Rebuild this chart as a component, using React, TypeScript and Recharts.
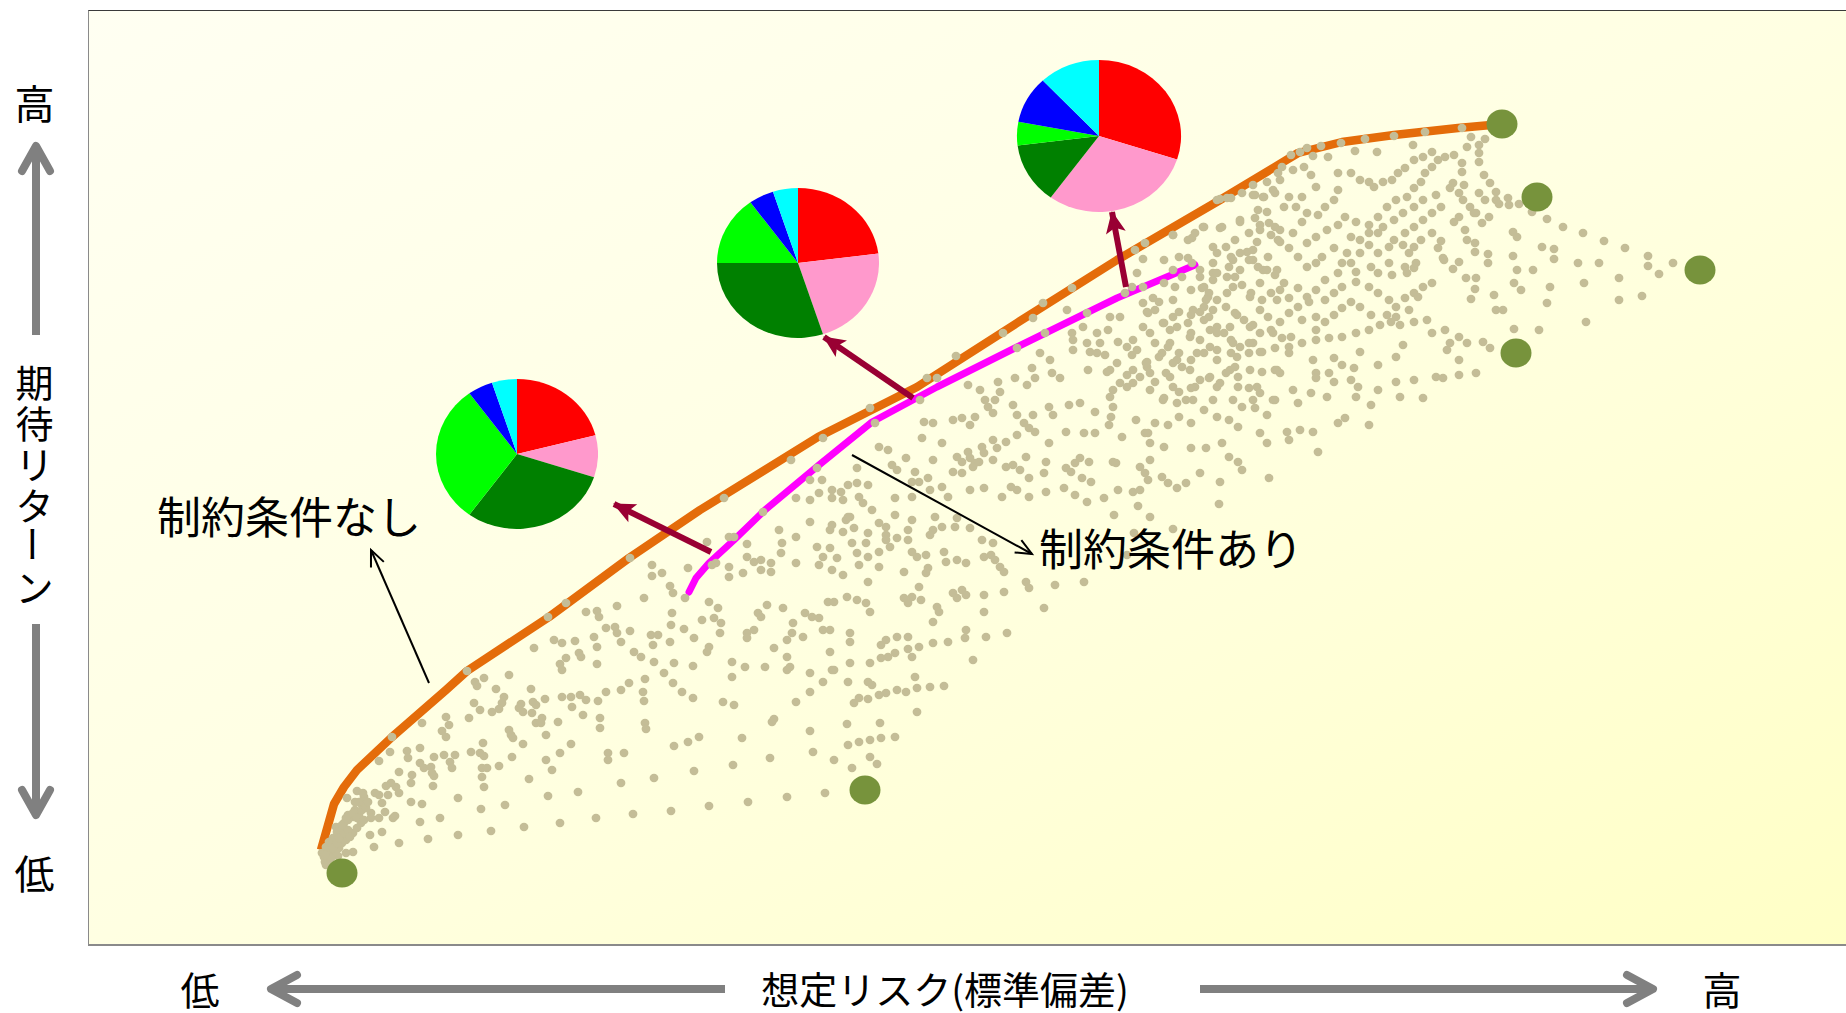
import React from 'react';
import { ScatterChart, Scatter, XAxis, YAxis, PieChart, Pie, Cell } from 'recharts';

type Pt = [number, number];

// Efficient frontier without allocation constraints (risk, expected return)
const frontierUnconstrained: Pt[] = [
  [23.3, 9.6], [24.6, 14.2], [25.6, 15.9], [26.9, 17.6], [30.4, 20.9], [35.8, 25.6], [37.9, 27.5],
  [46.1, 32.9], [54.1, 38.8], [61.2, 43.6], [73.0, 50.9], [82.9, 55.9], [92.9, 62.3], [102.9, 68.6],
  [113.2, 74.6], [121.0, 79.3], [125.4, 80.4], [130.6, 81.1], [137.0, 81.8], [141.4, 82.2],
];

// Efficient frontier with allocation constraints
const frontierConstrained: Pt[] = [
  [60.1, 35.4], [60.8, 36.8], [62.1, 38.3], [64.6, 40.6], [67.7, 43.6], [73.1, 48.1], [78.4, 52.4],
  [84.9, 55.9], [92.9, 59.9], [102.9, 64.8], [110.7, 68.1],
];

// Individual asset classes
const assetPoints: Pt[] = [
  [25.4, 7.3], [77.7, 15.6], [141.4, 82.2], [144.9, 74.9], [161.2, 67.6], [142.8, 59.3],
];

// Randomly weighted portfolios, low-risk side
const portfoliosLow: Pt[] = [
  [54.2,38.8],[47.8,34.3],[46.0,32.9],[37.9,27.5],[30.4,20.9],
  [56.4,38.1],[56.4,37.0],[57.4,37.3],[60.0,37.8],[58.2,36.0],[58.5,35.3],[59.7,34.8],[55.6,34.8],[52.9,34.0],[49.8,33.4],
  [50.9,33.5],[51.1,32.9],[58.4,33.3],[58.3,32.1],[59.6,31.7],[51.8,31.8],[52.7,31.9],[52.9,31.3],[54.2,31.5],[53.3,30.4],
  [56.3,31.1],[57.0,31.1],[58.2,30.4],[56.5,30.1],[60.6,30.8],[50.6,30.9],[50.9,29.9],[44.6,29.8],[46.6,30.6],[47.4,30.3],
  [48.7,30.5],[54.6,29.4],[55.3,28.9],[49.1,29.3],[49.3,28.9],[47.8,28.8],[47.2,28.2],[47.4,27.6],[50.9,28.2],[56.6,28.4],
  [58.6,28.3],[57.6,27.3],[60.5,28.0],[55.7,26.7],[54.1,26.3],[51.8,25.4],[53.3,25.6],[55.5,25.4],[55.6,24.5],[58.5,26.3],
  [59.4,25.4],[60.5,24.8],[49.2,25.1],[48.3,24.9],[47.4,24.9],[49.8,24.6],[51.0,24.5],[45.7,24.7],[44.5,24.4],[44.8,24.1],
  [43.3,24.2],[43.1,23.8],[43.5,23.4],[44.3,25.7],[42.1,27.1],[40.8,25.7],[41.6,24.9],[41.4,24.3],[38.7,26.4],[38.9,26.0],
  [39.6,26.8],[38.6,24.3],[39.2,23.6],[40.4,23.4],[41.1,23.7],[48.4,23.9],[49.5,23.1],[51.2,22.8],[51.2,21.8],[44.4,23.3],
  [45.4,22.8],[44.8,22.3],[45.3,22.3],[47.0,22.4],[38.1,22.8],[35.8,22.9],[36.1,22.1],[35.4,21.5],[35.8,20.9],[33.4,22.3],
  [42.1,21.6],[42.3,21.1],[42.5,20.8],[43.5,20.2],[45.8,21.1],[48.3,20.2],[47.2,19.3],[45.8,18.6],[46.4,17.6],[55.7,22.3],
  [55.8,21.7],[58.6,20.0],[60.0,20.4],[61.1,20.9],[52.0,19.3],[52.0,18.6],[53.6,19.3],[39.5,20.3],[38.3,19.4],[39.2,19.3],
  [39.6,19.0],[39.4,17.8],[41.1,18.0],[39.9,17.8],[42.4,18.9],[39.4,16.9],[39.6,15.9],[36.7,19.1],[36.2,18.4],[35.6,19.1],
  [34.6,18.9],[33.2,18.3],[33.6,17.8],[34.3,17.9],[34.4,17.3],[34.6,17.0],[33.2,19.8],[31.9,19.5],[32.0,18.8],[30.2,19.4],
  [29.1,18.5],[31.1,17.4],[32.4,17.1],[32.3,16.3],[34.5,16.0],[37.0,14.8],[36.4,17.8],[30.3,16.3],[29.8,16.0],[30.8,15.9],
  [31.1,15.3],[29.1,15.1],[30.0,15.1],[32.3,14.4],[33.4,14.2],[44.1,16.7],[46.0,15.0],[49.0,15.4],[53.3,16.3],[56.6,16.8],
  [60.6,17.5],[41.7,14.1],[39.3,13.7],[35.2,12.8],[33.2,12.4],[30.7,13.0],[28.3,13.3],[29.4,14.3],[26.9,15.5],[25.9,14.8],
  [27.4,14.1],[27.1,13.1],[26.5,12.9],[26.0,12.6],[25.6,11.8],[26.5,11.3],[25.1,10.9],[24.6,10.3],[25.1,9.8],[24.2,9.3],
  [24.0,8.6],[23.6,8.9],[23.8,8.1],[27.3,12.3],[28.2,11.1],[29.4,11.4],[28.6,9.9],[31.1,10.3],[34.0,10.7],[37.0,11.1],
  [40.3,11.5],[43.6,11.9],[47.2,12.3],[50.8,12.8],[54.5,13.2],[58.3,13.5],[26.5,9.4],[25.0,9.0],[25.3,11.2],[24.8,11.9],
  [25.8,10.6],[24.0,9.9],[24.5,10.8],[24.9,11.4],[25.6,12.3],[26.0,13.1],[26.7,13.6],[27.1,14.4],[27.6,14.9],[25.4,10.3],
  [24.7,9.4],[23.7,8.4],
  [23.4,9.3],[23.8,9.9],[24.1,10.4],[24.5,9.8],[24.9,10.3],[25.1,10.8],[25.6,11.3],[26.0,11.6],[25.4,12.1],[25.8,12.8],
  [26.5,13.3],[26.9,12.8],[27.4,13.6],[27.8,13.8],[26.2,10.9],[25.8,9.3],[24.3,8.8],[24.0,8.1],[23.7,9.1],[26.9,11.8],
  [27.6,12.6],[28.3,12.8],[26.7,14.4],[27.5,15.3],[28.7,15.3],[28.0,14.4],[29.1,12.8],[29.7,13.4],[30.5,12.8],
];

// Randomly weighted portfolios, middle band
const portfoliosMid: Pt[] = [
  [83.6,52.4],[84.5,52.3],[85.4,50.3],[83.4,50.8],[86.5,52.6],[87.4,52.8],[88.7,52.9],[88.2,52.1],[90.0,53.9],[90.5,53.3],
  [92.5,54.1],[92.9,53.1],[93.6,52.3],[94.5,53.1],[96.1,53.9],[96.5,53.1],[98.1,54.1],[99.2,54.3],[100.7,53.4],[102.5,53.9],
  [102.3,52.9],[102.1,52.1],[104.8,52.6],[105.7,51.3],[99.6,51.3],[100.7,51.3],[97.8,51.4],[96.1,50.3],[94.1,51.8],[94.7,51.4],
  [92.9,51.1],[91.8,50.4],[90.5,50.6],[90.9,49.8],[89.4,49.9],[88.0,49.4],[86.9,48.9],[87.4,48.4],[88.2,48.8],[89.1,48.4],
  [90.5,48.6],[89.6,49.3],[88.7,48.3],[86.5,47.4],[87.4,47.3],[88.5,47.9],[91.8,47.9],[92.5,48.1],[93.2,47.6],[93.8,48.9],
  [94.1,46.8],[95.8,48.4],[95.6,47.3],[97.8,47.8],[98.7,48.3],[99.2,48.8],[100.1,48.4],[98.3,47.4],[99.4,46.8],[100.3,46.4],
  [102.5,48.4],[105.2,47.9],[105.7,47.3],[103.4,50.9],[102.8,48.3],[79.1,49.9],[80.0,49.6],[80.4,48.1],[81.8,48.8],[82.7,47.4],
  [82.4,46.4],[83.1,46.4],[84.0,46.8],[84.5,48.6],[80.9,47.6],[82.4,44.9],[84.2,45.6],[85.4,45.9],[86.0,44.9],[88.2,45.6],
  [89.6,45.8],[91.4,44.9],[92.9,45.6],[92.3,45.9],[94.1,44.9],[95.8,45.4],[97.6,45.8],[98.7,45.1],[99.9,44.4],[101.6,44.8],
  [103.0,45.6],[104.5,45.4],[105.2,45.6],[78.0,46.1],[80.7,44.8],[76.9,47.8],[77.1,44.9],[75.5,44.6],[74.4,44.8],[73.1,45.3],
  [72.2,44.6],[70.8,44.8],[72.2,46.6],[73.4,46.6],[74.4,45.6],[75.3,45.4],[76.0,46.1],[76.9,46.3],
  [78.2,53.8],[73.5,50.8],[70.3,48.6],[63.6,44.8],[78.7,52.3],[72.9,47.8],[67.5,43.4],
  [62.4,38.1],[62.8,38.3],[64.1,37.9],[64.1,36.9],[61.9,40.4],[64.1,40.9],[64.6,40.9],[65.9,40.2],[65.9,38.9],[65.5,37.3],
  [66.6,38.4],[67.3,38.6],[67.3,37.6],[68.3,37.4],[68.3,38.3],[69.1,41.6],[69.4,40.3],[69.3,39.3],[70.8,40.9],[70.8,38.3],
  [72.2,42.4],[72.9,39.9],[73.5,38.9],[73.1,38.1],[74.2,39.8],[74.9,38.8],[74.4,37.6],[75.5,37.1],[75.5,41.4],[74.2,41.6],
  [74.4,42.1],[75.8,42.6],[76.0,42.9],[76.6,41.8],[76.4,40.3],[76.9,39.3],[77.1,38.1],[78.0,36.4],[79.1,39.4],[79.1,37.9],
  [78.0,38.9],[77.8,40.3],[78.0,41.3],[79.1,42.3],[79.8,41.9],[79.8,41.1],[78.4,43.6],[77.5,44.3],[76.2,42.9],[80.7,43.1],
  [80.9,40.8],[79.8,40.6],[80.2,39.9],[82.0,40.6],[82.4,39.4],[82.9,38.9],[83.8,39.1],[84.5,41.6],[84.2,41.1],[85.6,39.4],
  [85.8,38.4],[86.9,38.6],[87.8,38.3],[89.4,40.6],[90.5,40.3],[90.3,39.1],[90.7,38.6],[91.2,37.9],[91.6,37.4],[89.6,38.9],
  [85.4,41.9],[86.7,41.9],[88.2,41.8],[86.9,42.8],[84.7,42.9],[82.4,42.6],[82.0,41.6],[83.8,37.3],[84.0,37.8],[83.1,35.9],
  [81.6,37.4],[82.4,34.9],[82.0,34.3],[81.6,34.8],[83.3,34.6],[84.9,33.9],[85.1,33.4],[84.5,32.4],[86.5,35.3],[86.9,34.8],
  [87.4,35.6],[87.8,35.1],[89.6,35.1],[91.6,35.4],[89.6,33.4],[93.8,36.4],[94.1,35.8],[96.7,36.1],[99.6,36.4],[95.6,33.8],
  [87.8,31.6],[87.7,30.8],[89.8,30.9],[91.9,31.3],[88.5,28.6],[86.0,30.4],[84.5,30.3],[83.1,29.9],[82.0,30.9],[80.9,30.9],
  [82.0,29.7],[82.4,28.9],[79.8,30.6],[79.3,30.1],[80.0,28.9],[79.3,28.8],[80.7,29.3],[78.2,28.3],[76.2,28.3],[74.4,27.6],
  [76.0,26.4],[78.0,26.4],[78.4,26.1],[79.8,25.3],[80.9,25.6],[81.8,25.4],[82.9,25.8],[84.2,25.9],[85.6,26.0],[82.7,26.9],
  [82.9,23.4],[77.1,24.8],[76.6,24.3],[78.0,24.7],[79.1,25.1],[73.5,26.4],[72.2,25.4],[70.8,24.4],[69.9,27.6],[70.2,27.9],
  [67.7,27.9],[65.7,27.9],[64.4,28.4],[64.4,26.9],[63.5,24.4],[64.6,24.1],[68.4,22.4],[68.6,22.7],[72.2,21.5],[75.9,22.2],
  [79.2,22.3],[76.0,20.1],[77.1,20.4],[78.2,20.6],[79.3,20.8],[80.7,20.9],[78.2,18.9],[78.9,18.2],[76.4,17.8],[74.6,18.6],
  [72.5,19.4],[68.2,18.8],[65.4,20.8],[64.5,18.1],[66.0,14.4],[69.9,14.9],[73.7,15.3],[62.1,14.0],[61.9,29.4],[62.1,29.9],
  [63.2,31.3],[63.3,32.3],[62.6,32.8],[61.4,32.6],[63.0,33.8],[62.1,34.4],[65.9,31.3],[66.6,31.6],[65.9,30.8],[67.0,33.3],
  [67.3,32.9],[67.9,34.1],[69.5,33.8],[70.5,32.3],[70.4,31.3],[71.5,30.9],[71.7,33.3],[72.4,32.9],[73.1,32.8],[73.5,31.6],
  [74.2,31.6],[74.0,34.4],[74.6,34.4],[75.9,34.9],[76.9,34.6],[77.8,34.3],[78.2,33.4],[76.2,31.3],[76.2,30.4],[74.2,29.4],
  [74.6,27.6],[72.2,27.3],[69.9,30.6],[69.9,28.9],[68.6,29.8],
  [105.0,44.0],[113.1,44.2],[102.6,43.1],[106.2,42.9],[104.6,41.3],[108.5,41.7],[103.9,39.1],[128.3,54.1],
];

// Randomly weighted portfolios, upper band
const portfoliosUpper: Pt[] = [
  [94.5,62.8],[95.5,64.3],[97.9,63.6],[98.4,65.8],[99.9,63.3],[99.5,61.9],[98.4,61.3],[100.9,61.3],[102.2,62.9],[103.2,62.9],
  [102.0,61.6],[103.0,60.4],[103.9,59.9],[104.5,60.6],[105.5,61.9],[105.9,63.4],[105.5,64.3],[104.9,67.3],[105.5,68.7],[104.7,69.6],
  [105.7,70.3],[103.7,65.3],[104.4,65.9],[105.5,65.9],[98.5,60.6],[98.5,59.6],[99.9,60.3],[100.2,59.4],[101.2,60.3],[100.9,59.3],
  [101.7,59.1],[102.9,58.3],[104.4,59.1],[104.9,59.6],[105.9,58.4],[104.5,57.6],[105.2,56.9],[103.9,57.1],[103.2,56.3],[102.5,55.6],
  [102.2,54.9],[103.9,55.9],[104.5,56.3],[105.9,57.9],[102.2,57.6],[101.9,57.4],[100.0,57.6],[97.2,56.8],[96.4,57.3],[95.2,59.3],
  [96.2,58.6],[94.4,57.8],[94.7,56.8],[93.9,56.1],[92.7,56.8],[91.0,56.4],[91.2,55.4],[89.2,55.6],[88.0,56.1],[89.7,54.6],
  [90.7,54.6],[83.9,56.8],[84.9,56.8],[86.8,59.0],[91.5,61.3],[83.2,54.6],[92.9,59.8],[95.7,61.3],
  [108.5,71.1],[110.4,70.8],[111.5,71.9],[113.2,71.8],[115.2,72.6],[117.0,73.6],[118.5,75.6],[116.5,75.1],[117.5,74.9],[113.9,74.8],
  [117.2,72.1],[118.7,71.9],[119.0,70.6],[116.9,70.4],[115.9,69.4],[114.5,68.6],[116.5,68.6],[118.0,68.9],[112.5,69.9],[112.5,67.3],
  [113.9,66.9],[115.2,67.6],[117.5,67.6],[118.9,67.6],[117.2,66.3],[114.5,65.9],[111.2,67.6],[110.4,68.3],[111.4,65.8],[112.0,64.9],
  [113.9,65.3],[116.2,64.9],[118.9,64.6],[117.2,63.6],[114.9,63.1],[112.5,63.6],[110.5,63.6],[108.5,62.9],[107.5,62.3],[108.2,61.6],
  [110.0,62.3],[112.2,61.6],[114.2,61.9],[116.2,61.9],[118.0,62.9],[118.5,61.3],[116.5,60.3],[114.5,60.3],[112.2,59.9],[110.2,60.9],
  [108.2,60.3],[107.4,59.3],[108.9,58.6],[110.9,59.3],[112.9,58.6],[114.9,58.9],[117.2,59.4],[118.9,57.6],[116.2,57.6],[114.2,57.6],
  [112.2,56.9],[110.2,57.6],[108.2,56.9],[108.5,55.9],[110.7,55.9],[112.9,55.9],[115.0,55.9],[116.9,55.9],[118.7,54.6],[116.5,54.6],
  [114.5,54.6],[112.5,54.6],[110.5,54.6],[107.5,54.6],
];

// Randomly weighted portfolios, high-risk side
const portfoliosHigh: Pt[] = [
  [113.2,74.7],[114.3,74.8],[115.4,75.3],[120.3,79.1],[121.2,79.4],[121.9,79.8],[123.3,80.0],[125.3,80.3],[127.7,80.7],[130.6,81.0],
  [133.7,81.4],[137.4,81.8],[122.5,79.0],[124.0,78.9],[126.7,79.5],[128.9,79.4],[132.5,80.1],[138.3,80.9],[139.7,80.7],[139.1,80.1],
  [139.1,79.3],[139.1,78.4],[137.4,78.3],[137.4,77.4],[137.6,76.1],[136.5,76.3],[139.6,77.1],[140.2,76.3],[140.8,75.4],[142.0,74.8],
  [140.8,74.6],[141.1,74.2],[142.1,74.1],[143.1,74.2],[144.4,73.4],[145.9,72.7],[147.5,71.9],[149.5,71.3],[151.6,70.5],[153.7,69.8],
  [156.0,69.0],[158.5,68.3],[156.0,68.0],[157.1,67.2],[153.1,66.8],[155.4,65.0],[153.1,64.6],[149.8,62.4],[145.1,61.6],[142.6,61.7],
  [146.2,65.9],[145.9,64.3],[144.5,67.6],[142.9,67.6],[143.3,65.6],[142.6,66.3],[142.5,69.0],[142.5,71.4],[142.9,70.9],[145.4,69.9],
  [146.6,69.7],[146.6,68.7],[149.0,68.3],[151.1,68.3],[149.6,66.3],[140.6,65.1],[140.8,63.6],[141.5,63.6],[138.7,65.7],[138.3,64.7],
  [138.8,66.8],[137.8,66.8],[140.0,69.2],[140.0,68.3],[138.7,69.4],[138.7,70.3],[137.9,70.6],[137.7,71.6],[136.6,72.4],[137.1,72.9],
  [138.6,73.3],[139.4,72.3],[140.1,72.9],[135.6,68.6],[136.5,67.7],[137.1,68.4],[135.5,68.8],[135.0,69.8],[135.3,70.5],[134.4,71.3],
  [133.3,70.6],[132.6,69.9],[132.1,69.3],[131.5,70.1],[130.6,70.6],[129.0,71.3],[128.1,70.1],[129.0,69.3],[130.1,68.3],[131.7,67.9],
  [132.6,67.8],[132.8,68.3],[131.9,67.3],[130.4,67.1],[129.0,67.3],[128.3,67.9],[126.8,67.4],[125.4,68.3],[125.9,69.3],[124.6,69.8],
  [123.4,68.9],[122.8,68.3],[121.9,67.9],[121.0,68.9],[120.1,69.8],[119.2,70.4],[118.3,71.1],[119.2,71.6],[118.1,72.3],[116.7,72.8],
  [117.9,73.4],[119.6,73.9],[120.1,74.9],[118.7,75.3],[117.9,76.4],[119.0,77.3],[119.4,77.9],[120.5,77.6],[121.6,77.9],[122.3,77.1],
  [122.8,75.9],[121.4,74.9],[120.8,73.9],[121.9,73.3],[123.0,73.1],[123.7,73.9],[124.6,74.6],[125.0,75.6],[125.0,77.3],[126.3,77.3],
  [127.2,76.6],[128.1,76.4],[128.6,75.9],[129.5,76.4],[130.4,76.6],[131.0,77.3],[131.7,77.8],[132.6,78.6],[133.5,78.9],[134.4,79.4],
  [135.0,78.6],[135.7,78.9],[136.6,79.1],[137.9,79.9],[134.4,77.9],[133.7,77.3],[133.3,76.4],[132.6,75.8],[131.9,74.9],[130.8,74.6],
  [129.9,73.9],[129.0,72.9],[128.1,72.1],[126.8,72.4],[125.7,72.9],[125.0,72.1],[123.9,71.6],[122.8,70.9],[121.9,70.3],[120.5,71.3],
  [121.4,72.4],[126.3,70.9],[127.2,70.6],[128.1,71.3],[129.5,71.9],[130.6,72.6],[131.5,73.3],[132.6,73.9],[133.5,74.6],[134.8,75.1],
  [136.2,75.8],[137.1,75.3],[137.5,74.6],[138.2,73.9],[138.8,73.3],[139.7,74.6],[139.1,75.3],[135.3,73.9],[134.4,73.3],[133.5,72.6],
  [132.6,71.9],[131.7,71.3],[130.1,69.9],[127.2,69.3],[126.3,68.3],[125.0,67.3],[123.7,66.6],[122.8,65.6],[121.9,64.9],[121.0,65.8],
  [119.6,66.3],[118.7,67.1],[117.9,67.6],[117.0,67.9],[116.1,68.6],[115.2,69.3],[114.3,68.9],[114.1,67.9],[114.7,66.9],[115.4,66.1],
  [116.3,65.3],[117.4,64.6],[118.3,65.3],[119.2,65.6],[120.1,64.8],[121.0,63.9],[122.1,64.4],[123.7,64.6],[124.6,65.3],[125.4,65.9],
  [126.8,66.4],[128.1,65.9],[129.0,65.3],[130.1,64.6],[130.8,63.9],[131.7,64.8],[132.6,65.3],[133.5,65.9],[134.4,66.3],[133.0,64.9],
  [132.1,63.6],[130.8,62.9],[129.9,63.1],[128.3,63.1],[127.2,63.9],[126.3,64.4],[125.4,63.8],[124.6,63.1],[123.7,62.4],[122.8,62.9],
  [121.4,62.6],[120.1,63.3],[119.2,62.4],[118.3,61.6],[117.2,61.3],[116.5,62.1],[115.6,62.6],[114.7,63.3],[113.8,63.9],[112.9,64.6],
  [112.1,65.3],[111.6,65.9],[112.5,66.6],[112.9,67.3],[111.8,64.6],[111.2,63.4],[112.1,62.9],[112.9,61.9],[113.6,61.3],[114.3,60.6],
  [115.2,59.9],[116.1,59.3],[117.4,59.4],[118.7,59.8],[120.1,59.9],[121.4,60.3],[122.8,60.6],[124.1,60.8],[125.4,60.9],[126.8,61.3],
  [128.1,61.6],[129.2,62.1],[130.3,62.4],[131.2,62.1],[132.6,62.4],[133.9,62.6],[134.4,61.3],[135.7,61.6],[137.1,60.9],[137.9,60.3],
  [139.5,60.4],[140.2,59.8],[136.2,60.3],[135.9,59.6],[137.1,58.6],[130.8,58.9],[131.5,60.1],[129.0,58.1],[127.2,59.4],[126.6,57.8],
  [125.4,58.1],[124.6,58.8],[124.1,57.3],[122.8,57.3],[122.5,58.6],[120.1,59.3],[118.7,57.6],[117.4,57.4],[116.1,60.3],[114.7,57.9],
  [115.0,56.9],[113.8,57.3],[113.2,56.3],[112.1,56.8],[111.2,56.6],[110.3,55.8],[109.1,55.4],[109.8,54.6],[108.9,54.3],[107.6,54.8],
  [106.2,55.6],[106.7,56.4],[107.8,57.3],[109.4,57.9],[110.3,58.6],[111.6,59.3],[112.9,59.6],[114.3,59.3],[112.9,61.3],[111.2,60.6],
  [110.3,61.3],[108.9,61.9],[107.6,62.3],[106.2,61.3],[106.7,60.3],[108.0,59.9],[109.1,59.3],[108.5,58.3],[107.1,58.9],[105.8,58.3],
  [106.2,57.3],[107.1,64.4],[106.5,64.8],[106.0,63.3],[106.7,63.6],[108.5,64.6],[109.1,63.4],[110.3,63.1],[111.6,63.9],[111.6,62.6],
  [110.3,65.6],[108.7,65.9],[107.6,66.3],[108.5,67.6],[109.4,66.9],[111.2,66.9],[112.9,69.3],[113.8,69.9],[114.7,70.6],[116.1,71.3],
  [117.2,71.6],[116.5,69.6],[112.5,68.3],[110.0,68.8],[107.6,68.6],[109.1,68.9],[110.7,71.3],[110.0,70.6],[108.5,71.1],[111.6,71.9],
  [113.4,71.9],[115.2,72.4],[116.7,75.1],[117.6,74.9],[119.2,76.6],[112.9,74.6],[116.5,76.1],[122.8,61.6],[119.4,60.8],[120.3,60.9],
  [119.2,57.3],[120.5,55.6],[122.3,55.3],[123.9,54.9],[126.8,54.9],[128.1,52.1],[125.0,52.3],[125.7,52.8],[122.5,51.4],[121.2,51.6],
  [119.9,51.4],[120.1,50.6],[117.9,50.3],[117.2,51.3],[117.9,53.1],[116.7,53.8],[115.4,53.9],[116.1,55.8],[117.2,55.3],[118.5,54.6],
  [121.0,54.3],[122.8,56.8],[124.6,56.4],[126.3,56.6],[127.0,55.9],[129.0,55.6],[130.8,56.4],[131.2,54.9],[132.6,56.6],[133.5,54.8],
  [134.8,56.9],[135.5,56.8],[137.1,57.1],[138.8,57.3],[123.0,49.4],[115.0,51.9],[114.1,52.6],[112.9,52.9],[111.6,53.6],[110.3,52.3],
  [109.1,52.9],[108.0,52.1],[106.7,52.3],[106.0,51.3],[107.6,49.9],[106.2,50.3],[107.4,46.9],[108.0,46.3],[108.9,45.8],[109.8,46.3],
  [111.2,47.3],[113.2,46.4],[110.3,49.8],[111.8,49.8],[113.4,50.3],[114.1,48.9],[115.0,48.4],[115.4,47.6],[118.1,46.8],[106.2,48.6],
  [106.0,46.6],
];

// Pointers from frontier portfolios to their allocation pies: [from, to]
const allocationPointers: Pt[][] = [
  [[62.3, 39.4], [52.6, 44.2]],
  [[82.5, 54.8], [73.6, 60.9]],
  [[103.8, 65.9], [102.4, 73.4]],
];

// Pointers from the labels to the two frontiers: [from, to]
const labelPointers: Pt[][] = [
  [[34.1, 26.3], [28.3, 39.6]],
  [[76.4, 49.1], [94.4, 39.2]],
];

// Asset-class weights (%) of three constrained-frontier portfolios
const assetClasses = ['外国株式', '外国債券', '国内債券', '国内株式', '新興国株式', '短期資産'];
const allocLowRisk = [21, 9, 30, 30, 5, 5];
const allocMidRisk = [23, 22, 30, 15, 5, 5];
const allocHighRisk = [30, 30, 13, 5, 10, 12];

const assetColors = ['#FF0000', '#FF99CC', '#008000', '#00FF00', '#0000FF', '#00FFFF'];
const JP_FONT = '"Noto Sans CJK JP", "Noto Sans", sans-serif';

const toRows = (pts: Pt[]) => pts.map(([risk, ret]) => ({ risk, ret }));

const noMark = () => <g />;
const tanDot = (p: any) => <ellipse cx={p.cx} cy={p.cy} rx={4.4} ry={4.2} fill="#C4BD97" />;
const assetDot = (p: any) => <ellipse cx={p.cx} cy={p.cy} rx={15.5} ry={14.5} fill="#77933C" />;

// Polyline through the scatter's own pixel points, with an explicit stroke style
const strokedPath = (stroke: string, width: number, extra: Record<string, any> = {}) => (props: any) => {
  const pts: { x: number; y: number }[] = props.points || [];
  const d = pts.map((p, i) => `${i === 0 ? 'M' : 'L'}${p.x},${p.y}`).join(' ');
  return (
    <path
      d={d}
      fill="none"
      stroke={stroke}
      strokeWidth={width}
      strokeLinejoin="round"
      {...extra}
    />
  );
};

function AllocationPie({ weights, cx, cy, r, stretch }: { weights: number[]; cx: number; cy: number; r: number; stretch: number }) {
  const data = weights.map((weight, i) => ({ asset: assetClasses[i], weight }));
  const size = 2 * r + 6;
  return (
    <div
      style={{
        position: 'absolute',
        left: cx - size / 2,
        top: cy - size / 2,
        width: size,
        height: size,
        transform: `scaleX(${stretch})`,
        transformOrigin: '50% 50%',
      }}
    >
      <PieChart width={size} height={size} margin={{ top: 0, right: 0, bottom: 0, left: 0 }}>
        <Pie
          data={data}
          dataKey="weight"
          nameKey="asset"
          cx={size / 2}
          cy={size / 2}
          outerRadius={r}
          startAngle={90}
          endAngle={-270}
          stroke="none"
          isAnimationActive={false}
        >
          {data.map((d, i) => (
            <Cell key={d.asset} fill={assetColors[i]} />
          ))}
        </Pie>
      </PieChart>
    </div>
  );
}

const verticalTitle = ['期', '待', 'リ', 'タ', 'ー', 'ン'];

export default function App() {
  const axisGray = '#808080';
  return (
    <div style={{ position: 'absolute', left: 0, top: 0, width: 1846, height: 1013, background: '#FFFFFF', overflow: 'hidden', fontFamily: JP_FONT }}>
      <svg width={0} height={0} style={{ position: 'absolute' }}>
        <defs>
          <marker id="tipRed" markerUnits="userSpaceOnUse" markerWidth={26} markerHeight={24} refX={21} refY={10} orient="auto" overflow="visible">
            <path d="M0,0 L22,10 L0,20 L5,10 Z" fill="#990033" />
          </marker>
          <marker id="tipBlack" markerUnits="userSpaceOnUse" markerWidth={20} markerHeight={20} refX={16} refY={8} orient="auto" overflow="visible">
            <path d="M0,1 L16,8 L0,15" fill="none" stroke="#000000" strokeWidth={2} />
          </marker>
        </defs>
      </svg>

      {/* plot area background */}
      <div
        style={{
          position: 'absolute',
          left: 88,
          top: 10,
          width: 1758,
          height: 936,
          boxSizing: 'border-box',
          background: 'linear-gradient(to bottom right, #FFFFF2 0%, #FFFFE2 50%, #FFFFC6 100%)',
          borderTop: '1.5px solid #3A3A3A',
          borderLeft: '1.5px solid #8A8A8A',
          borderBottom: '2px solid #8A8A8A',
        }}
      />

      <div style={{ position: 'absolute', left: 0, top: 0 }}>
        <ScatterChart width={1846} height={1013} margin={{ top: 10, right: 0, bottom: 67, left: 88 }}>
          <XAxis type="number" dataKey="risk" domain={[0, 175.8]} hide />
          <YAxis type="number" dataKey="ret" domain={[0, 93.6]} hide />
          <Scatter
            data={toRows(frontierUnconstrained)}
            line={strokedPath('#E46C0A', 8.5)}
            shape={noMark}
            isAnimationActive={false}
          />
          <Scatter
            data={toRows(frontierConstrained)}
            line={strokedPath('#FF00FF', 7, { strokeLinecap: 'round' })}
            shape={noMark}
            isAnimationActive={false}
          />
          <Scatter data={toRows(portfoliosLow)} shape={tanDot} isAnimationActive={false} />
          <Scatter data={toRows(portfoliosMid)} shape={tanDot} isAnimationActive={false} />
          <Scatter data={toRows(portfoliosUpper)} shape={tanDot} isAnimationActive={false} />
          <Scatter data={toRows(portfoliosHigh)} shape={tanDot} isAnimationActive={false} />
          {allocationPointers.map((seg, i) => (
            <Scatter
              key={`alloc-${i}`}
              data={toRows(seg)}
              line={strokedPath('#990033', 6, { markerEnd: 'url(#tipRed)' })}
              shape={noMark}
              isAnimationActive={false}
            />
          ))}
          {labelPointers.map((seg, i) => (
            <Scatter
              key={`label-${i}`}
              data={toRows(seg)}
              line={strokedPath('#000000', 2, { markerEnd: 'url(#tipBlack)' })}
              shape={noMark}
              isAnimationActive={false}
            />
          ))}
          <Scatter data={toRows(assetPoints)} shape={assetDot} isAnimationActive={false} />
        </ScatterChart>
      </div>

      <AllocationPie weights={allocLowRisk} cx={517} cy={454} r={75} stretch={1.08} />
      <AllocationPie weights={allocMidRisk} cx={798} cy={263} r={75} stretch={1.08} />
      <AllocationPie weights={allocHighRisk} cx={1099} cy={136} r={76} stretch={1.08} />

      <svg width={1846} height={1013} style={{ position: 'absolute', left: 0, top: 0, pointerEvents: 'none' }} fontFamily={JP_FONT}>
        {/* vertical axis: expected return */}
        <text x={34.5} y={102} fontSize={40} textAnchor="middle" dominantBaseline="central" fill="#000">高</text>
        <line x1={36} y1={148} x2={36} y2={335} stroke={axisGray} strokeWidth={8} />
        <polyline points="22,171 36,146 50,171" fill="none" stroke={axisGray} strokeWidth={8} strokeLinecap="round" strokeLinejoin="round" />
        {verticalTitle.map((ch, i) => {
          const y = 380 + i * 41;
          return ch === 'ー' ? (
            <text key={i} x={34.5} y={y} fontSize={38} textAnchor="middle" dominantBaseline="central" fill="#000" transform={`rotate(90 34.5 ${y})`}>{ch}</text>
          ) : (
            <text key={i} x={34.5} y={y} fontSize={38} textAnchor="middle" dominantBaseline="central" fill="#000">{ch}</text>
          );
        })}
        <line x1={36} y1={624} x2={36} y2={814} stroke={axisGray} strokeWidth={8} />
        <polyline points="22,790 36,815 50,790" fill="none" stroke={axisGray} strokeWidth={8} strokeLinecap="round" strokeLinejoin="round" />
        <text x={34.5} y={872} fontSize={40} textAnchor="middle" dominantBaseline="central" fill="#000">低</text>

        {/* horizontal axis: risk */}
        <text x={200} y={988} fontSize={39} textAnchor="middle" dominantBaseline="central" fill="#000">低</text>
        <line x1={273} y1={989} x2={725} y2={989} stroke={axisGray} strokeWidth={8} />
        <polyline points="297,975 271,989 297,1003" fill="none" stroke={axisGray} strokeWidth={8} strokeLinecap="round" strokeLinejoin="round" />
        <text x={945} y={987} fontSize={38} textAnchor="middle" dominantBaseline="central" fill="#000">想定リスク(標準偏差)</text>
        <line x1={1200} y1={989} x2={1651} y2={989} stroke={axisGray} strokeWidth={8} />
        <polyline points="1627,975 1653,989 1627,1003" fill="none" stroke={axisGray} strokeWidth={8} strokeLinecap="round" strokeLinejoin="round" />
        <text x={1722} y={988} fontSize={39} textAnchor="middle" dominantBaseline="central" fill="#000">高</text>

        {/* frontier labels */}
        <text x={157} y={515} fontSize={44} dominantBaseline="central" fill="#000">制約条件なし</text>
        <text x={1039} y={547} fontSize={44} dominantBaseline="central" fill="#000">制約条件あり</text>
      </svg>
    </div>
  );
}
